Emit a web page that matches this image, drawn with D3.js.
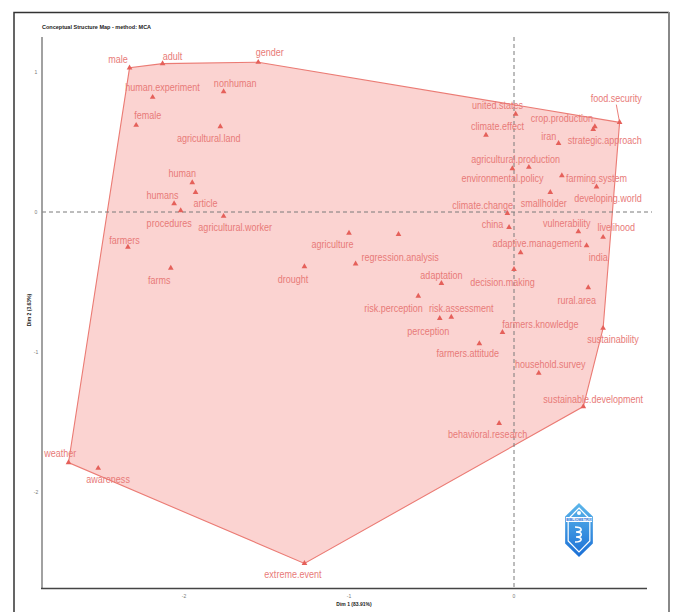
<!DOCTYPE html>
<html>
<head>
<meta charset="utf-8">
<script src="https://cdn.jsdelivr.net/npm/d3@7"></script>
<style>
  body { margin: 0; background: #fff; }
  svg { display: block; }
  .lbl { font-family: "Liberation Sans", Arial, sans-serif; font-size: 11px; fill: #e87a78; }
  .tiny { font-family: "Liberation Sans", Arial, sans-serif; font-size: 5px; fill: #777; }
</style>
</head>
<body>
<div id="graphZone"></div>
<script>
/************************************ Data *******************************/
var words = ["male", "adult", "gender", "human.experiment", "nonhuman", "female",
  "agricultural.land", "human", "article", "humans", "procedures", "agricultural.worker",
  "farmers", "farms", "weather", "awareness", "extreme.event", "drought", "agriculture",
  "regression.analysis", "adaptation", "risk.perception", "risk.assessment", "perception",
  "farmers.attitude", "farmers.knowledge", "behavioral.research", "decision.making", "china",
  "climate.change", "adaptive.management", "india", "vulnerability", "livelihood", "rural.area",
  "sustainability", "household.survey", "sustainable.development", "smallholder",
  "developing.world", "farming.system", "environmental.policy", "agricultural.production",
  "iran", "climate.effect", "united.states", "crop.production", "strategic.approach",
  "food.security", ""];

// Dim 1 / Dim 2 coordinates of each word (last one has its label hidden)
var dim1 = [-2.33, -2.13, -1.55, -2.19, -1.76, -2.29,
  -1.78, -1.95, -1.93, -2.06, -2.02, -1.76,
  -2.34, -2.08, -2.70, -2.52, -1.27, -1.27, -1.00,
  -0.96, -0.44, -0.58, -0.38, -0.45,
  -0.21, -0.07, -0.09, 0.00, -0.03,
  -0.04, 0.04, 0.44, 0.39, 0.54, 0.45,
  0.54, 0.15, 0.42, 0.22,
  0.50, 0.29, -0.01, 0.09,
  0.27, -0.17, 0.01, 0.49, 0.48,
  0.64, -0.70];
var dim2 = [1.03, 1.06, 1.07, 0.82, 0.86, 0.62,
  0.61, 0.21, 0.14, 0.06, 0.01, -0.03,
  -0.25, -0.40, -1.79, -1.83, -2.51, -0.39, -0.15,
  -0.37, -0.51, -0.60, -0.75, -0.76,
  -0.94, -0.86, -1.51, -0.41, -0.11,
  -0.01, -0.29, -0.24, -0.14, -0.18, -0.54,
  -0.83, -1.15, -1.39, 0.14,
  0.18, 0.26, 0.31, 0.32,
  0.49, 0.55, 0.70, 0.61, 0.59,
  0.64, -0.16];

// where the (repelled) labels ended up, same units
var labelDim1 = [-2.40, -2.07, -1.48, -2.13, -1.69, -2.22,
  -1.85, -2.01, -1.87, -2.13, -2.09, -1.69,
  -2.36, -2.15, -2.75, -2.46, -1.34, -1.34, -1.10,
  -0.69, -0.44, -0.73, -0.32, -0.52,
  -0.28, 0.16, -0.16, -0.07, -0.13,
  -0.19, 0.14, 0.51, 0.32, 0.62, 0.38,
  0.60, 0.22, 0.48, 0.18,
  0.57, 0.50, -0.07, 0.01,
  0.21, -0.10, -0.10, 0.29, 0.55,
  0.62, 0];
var labelDim2 = [1.09, 1.11, 1.14, 0.89, 0.92, 0.69,
  0.53, 0.28, 0.06, 0.12, -0.08, -0.11,
  -0.20, -0.49, -1.72, -1.91, -2.59, -0.48, -0.23,
  -0.32, -0.45, -0.69, -0.69, -0.85,
  -1.01, -0.80, -1.59, -0.50, -0.09,
  0.05, -0.22, -0.32, -0.08, -0.11, -0.63,
  -0.91, -1.09, -1.34, 0.06,
  0.10, 0.24, 0.24, 0.38,
  0.54, 0.61, 0.76, 0.67, 0.51,
  0.81, 0];

var leaderLines = ["food.security"];

var xTicks = [-2, -1, 0];
var yTicks = [-2, -1, 0, 1];

var chartTitle = "Conceptual Structure Map - method: MCA";
var xTitle = "Dim 1 (83.91%)";
var yTitle = "Dim 2 (3.63%)";

/************************************ Setup *******************************/
var W = 675, H = 612;
var svg = d3.select("#graphZone").append("svg").attr("width", W).attr("height", H);

var x = d3.scaleLinear().domain([-2, 0]).range([184, 514]);
var y = d3.scaleLinear().domain([0, 1]).range([212, 72]);

var pts = words.map(function(w, i) {
  return { word: w, x: dim1[i], y: dim2[i], lx: labelDim1[i], ly: labelDim2[i] };
});

// outer frame
svg.append("path").attr("d", "M14,640 L14,12.5 L669,12.5").attr("fill", "none")
  .attr("stroke", "#333").attr("stroke-width", 1.5);
svg.append("line").attr("x1", 669).attr("x2", 669).attr("y1", 12).attr("y2", 640)
  .attr("stroke", "#888").attr("stroke-width", 2);

svg.append("text").attr("x", 42).attr("y", 29).text(chartTitle)
  .style("font-family", "Liberation Sans, Arial, sans-serif").style("font-size", "5.5px")
  .style("font-weight", "bold").attr("fill", "#222");

/************************************ Hull *******************************/
var hull = d3.polygonHull(pts.map(function(d) { return [x(d.x), y(d.y)]; }));
svg.append("path").attr("d", "M" + hull.join("L") + "Z")
  .attr("fill", "#fbd3d1").attr("stroke", "#eb7b74").attr("stroke-width", 1.1);

// reference lines at 0
svg.append("line").attr("x1", x(0)).attr("x2", x(0)).attr("y1", 37).attr("y2", 588)
  .attr("stroke", "#7a7a7a").attr("stroke-dasharray", "4,3");
svg.append("line").attr("x1", 42).attr("x2", 652).attr("y1", y(0)).attr("y2", y(0))
  .attr("stroke", "#7a7a7a").attr("stroke-dasharray", "4,3");

/************************************ Axes *******************************/
svg.append("line").attr("x1", 42).attr("x2", 42).attr("y1", 37).attr("y2", 589)
  .attr("stroke", "#8a8a8a").attr("stroke-width", 1.6);
svg.append("line").attr("x1", 41).attr("x2", 647).attr("y1", 588.5).attr("y2", 588.5)
  .attr("stroke", "#444").attr("stroke-width", 1.5);

svg.selectAll(".yt").data(yTicks).enter().append("text").attr("class", "tiny")
  .attr("x", 36).attr("y", function(d) { return y(d) + 2; })
  .attr("text-anchor", "middle").text(function(d) { return d; });
svg.selectAll(".xt").data(xTicks).enter().append("text").attr("class", "tiny")
  .attr("x", function(d) { return x(d); }).attr("y", 598)
  .attr("text-anchor", "middle").text(function(d) { return d; });

svg.append("text").attr("x", 354).attr("y", 606).attr("text-anchor", "middle")
  .style("font-family", "Liberation Sans, Arial, sans-serif").style("font-size", "5px")
  .style("font-weight", "bold").attr("fill", "#222").text(xTitle);
svg.append("text").attr("transform", "translate(31,310) rotate(-90)").attr("text-anchor", "middle")
  .style("font-family", "Liberation Sans, Arial, sans-serif").style("font-size", "5px")
  .style("font-weight", "bold").attr("fill", "#222").text(yTitle);

/************************************ Points & labels *******************************/
svg.selectAll(".seg").data(pts.filter(function(d) { return leaderLines.indexOf(d.word) >= 0; }))
  .enter().append("line")
  .attr("x1", function(d) { return x(d.lx); }).attr("y1", function(d) { return y(d.ly) + 6; })
  .attr("x2", function(d) { return x(d.x); }).attr("y2", function(d) { return y(d.y); })
  .attr("stroke", "#e8706a").attr("stroke-width", 0.9);

var tri = d3.symbol().type(d3.symbolTriangle).size(14);
svg.selectAll(".pt").data(pts).enter().append("path")
  .attr("transform", function(d) { return "translate(" + x(d.x) + "," + y(d.y) + ")"; })
  .attr("d", tri).attr("fill", "#e5605a");

// labels are narrow in the original, squeeze them horizontally
svg.selectAll(".lbl").data(pts.filter(function(d) { return d.word !== ""; })).enter().append("text")
  .attr("class", "lbl")
  .attr("transform", function(d) { return "translate(" + x(d.lx) + "," + y(d.ly) + ") scale(0.82,1)"; })
  .attr("text-anchor", "middle").attr("dominant-baseline", "central")
  .text(function(d) { return d.word; });

/************************************ Logo *******************************/
var logo = svg.append("g").attr("transform", "translate(579,530)");
var grad = svg.append("defs").append("linearGradient").attr("id", "lg")
  .attr("x1", 0).attr("y1", 0).attr("x2", 0).attr("y2", 1);
grad.append("stop").attr("offset", "0%").attr("stop-color", "#5cb6ea");
grad.append("stop").attr("offset", "100%").attr("stop-color", "#1a6fd6");
var hex = function(rx, ry) {
  return d3.range(6).map(function(i) {
    var a = Math.PI / 3 * i - Math.PI / 2;
    return [rx * Math.cos(a), ry * Math.sin(a)];
  });
};
logo.append("path").attr("d", "M" + hex(16, 27).join("L") + "Z").attr("fill", "url(#lg)");
logo.append("path").attr("d", "M" + hex(12.5, 22).join("L") + "Z").attr("fill", "none")
  .attr("stroke", "#fff").attr("stroke-width", 1.2);
logo.append("rect").attr("x", -13).attr("y", -13).attr("width", 26).attr("height", 5).attr("fill", "#fff");
logo.append("text").attr("x", 0).attr("y", -9.2).attr("text-anchor", "middle")
  .style("font-family", "Liberation Sans, Arial, sans-serif").style("font-size", "3.6px")
  .style("font-weight", "bold").attr("fill", "#1a6fd6").text("BIBLIOMETRIX");
logo.append("path").attr("d", "M-4,-3 C4,-3 4,2 -3,2 C4,2 4,7 -3,7 C4,7 4,12 -4,12")
  .attr("fill", "none").attr("stroke", "#fff").attr("stroke-width", 1.6);
logo.append("circle").attr("cx", 0).attr("cy", -17).attr("r", 2).attr("fill", "#fff");
</script>
</body>
</html>
